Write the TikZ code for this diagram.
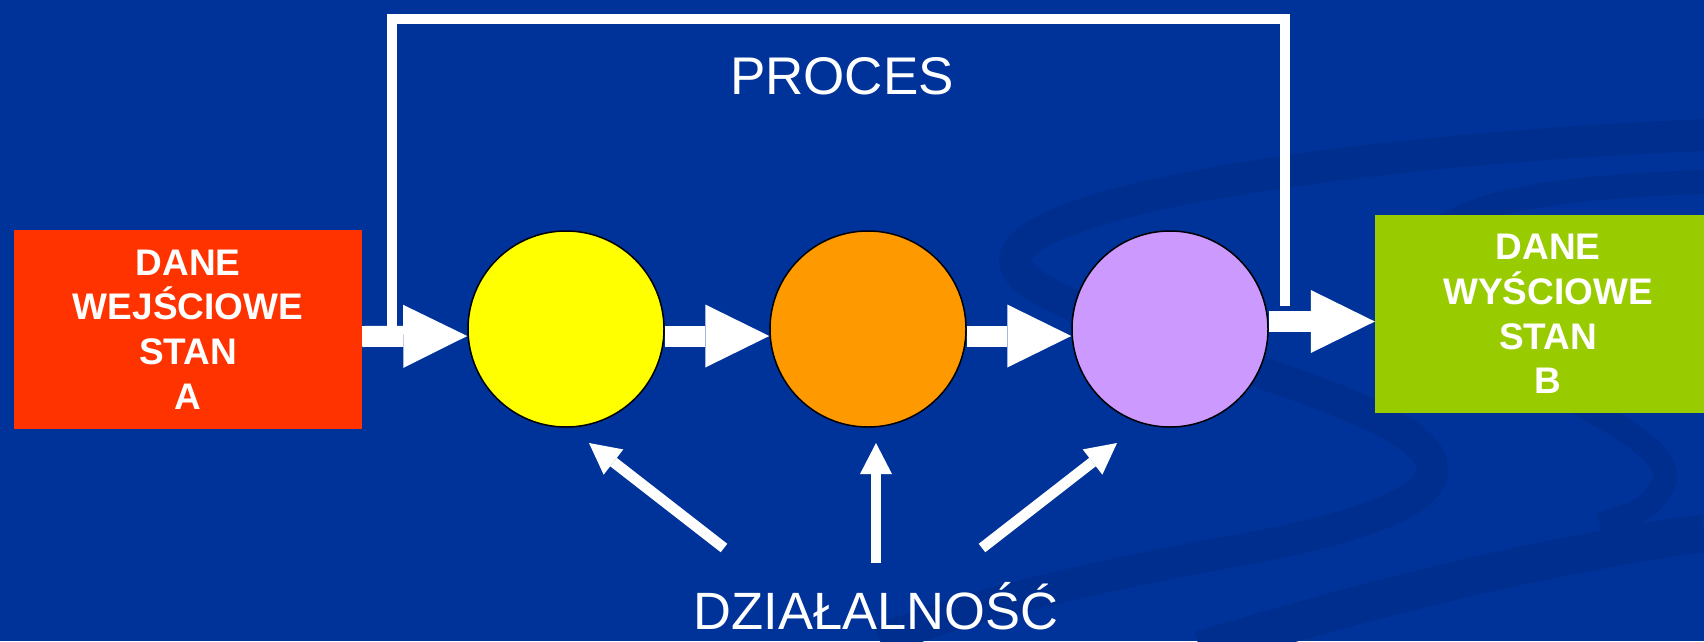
\documentclass[tikz,border=0pt]{standalone}
\usepackage{fontspec}
\setmainfont{Liberation Sans}
\usepackage{tikz}
\usetikzlibrary{arrows.meta}

\definecolor{bgblue}{RGB}{0,51,153}
\definecolor{swoosh}{RGB}{0,46,142}
\definecolor{boxred}{RGB}{255,51,0}
\definecolor{boxgreen}{RGB}{153,204,0}
\definecolor{stageyellow}{RGB}{255,255,0}
\definecolor{stageorange}{RGB}{255,153,0}
\definecolor{stagepurple}{RGB}{204,153,255}

\begin{document}
\begin{tikzpicture}[x=1pt,y=-1pt]
	\tikzstyle{state}=[rectangle, inner sep=0pt, text=white, align=center, font=\fontsize{37}{44.7}\selectfont\bfseries]
	\tikzstyle{stage}=[circle, minimum size=196pt, draw=black, line width=1.5pt]
	\tikzstyle{flow}=[white, line width=21pt, -{Triangle[length=64pt, width=63pt, line width=0pt]}]
	\tikzstyle{act}=[white, line width=10.7pt, -{Triangle[length=31pt, width=32pt, line width=0pt]}]
	\tikzstyle{bracket}=[white, line width=10pt, miter limit=4]
	\tikzstyle{bigtext}=[text=white, inner sep=0pt, font=\fontsize{53}{60}\selectfont]

	\fill[bgblue] (0,0) rectangle (1704,641);
	\useasboundingbox (0,0) rectangle (1704,641);

	% background swooshes
	\draw[swoosh, line width=32pt] (1704,135) .. controls (1350,150) and (1020,200) .. (1015,260)
		.. controls (1012,310) and (1300,370) .. (1400,430)
		.. controls (1470,475) and (1430,515) .. (1240,550)
		.. controls (1100,575) and (950,610) .. (880,641);
	\draw[swoosh, line width=24pt] (1704,182) .. controls (1450,190) and (1380,230) .. (1450,320)
		.. controls (1500,380) and (1700,440) .. (1660,490)
		.. controls (1645,510) .. (1600,525);
	\draw[swoosh, line width=38pt] (1200,650) .. controls (1400,590) and (1550,555) .. (1704,533);

	\node[state, fill=boxred, minimum width=348pt, minimum height=199pt] (input) at(188,329.5) {DANE\\WEJŚCIOWE\\STAN\\A};
	\node[state, fill=boxgreen, minimum width=346pt, minimum height=198pt] (output) at(1548,314) {DANE\\WYŚCIOWE\\STAN\\B};

	\node[stage, fill=stageyellow] (first) at(566,329) {};
	\node[stage, fill=stageorange] (second) at(868,329) {};
	\node[stage, fill=stagepurple] (third) at(1170,329) {};

	\node[bigtext] (proces) at(842,76) {PROCES};
	\node[bigtext, anchor=base, font=\fontsize{52.5}{60}\selectfont] (activity) at(876,629) {DZIAŁALNOŚĆ};

	\coordinate (procL) at ([xshift=30pt,yshift=-7pt]input.east);
	\coordinate (procR) at ([xshift=16pt,yshift=23pt]third.east);
	\coordinate (top) at (842,19);
	\draw[bracket] (procL) |- (top) -| (procR);

	\path[flow]
		([yshift=-7pt]input.east) edge ([yshift=-7pt]first.west)
		([yshift=-7pt]first.east) edge ([yshift=-7pt]second.west)
		([yshift=-7pt]second.east) edge ([yshift=-7pt]third.west)
		([yshift=7.5pt]third.east) edge ([yshift=-7.5pt]output.west);

	\coordinate (fromL) at (724,548);
	\coordinate (toL) at (589,443);
	\coordinate (fromM) at (876,563);
	\coordinate (toM) at (876,443);
	\coordinate (fromR) at (982,548);
	\coordinate (toR) at (1117,443);
	\path[act]
		(fromL) edge (toL)
		(fromM) edge (toM)
		(fromR) edge (toR);

\end{tikzpicture}
\end{document}
